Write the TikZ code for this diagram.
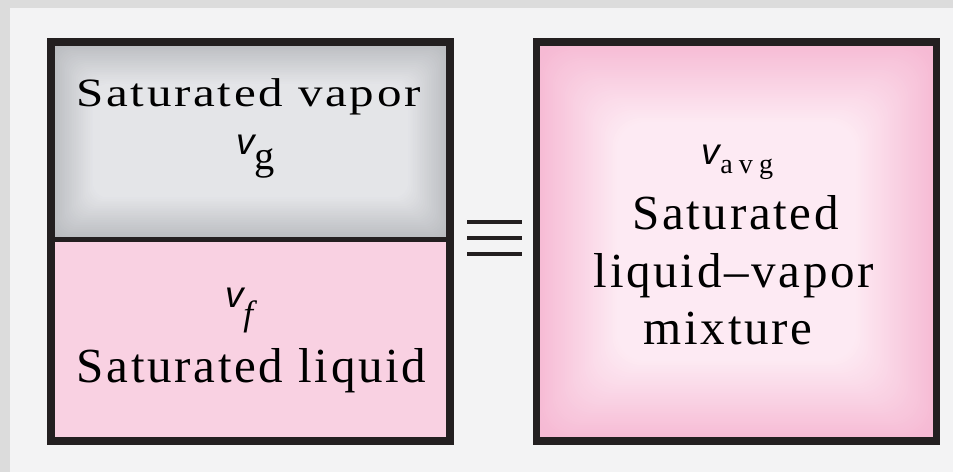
\documentclass[tikz,border=0pt]{standalone}
\usepackage{fontspec}
\setmainfont{Liberation Serif}[LetterSpace=5.5]
\newfontfamily\volfont{Liberation Sans}
\newfontfamily\subfont{Liberation Serif}[LetterSpace=22]
\usetikzlibrary{positioning}
\definecolor{bandgray}{RGB}{220,220,220}
\definecolor{pagegray}{RGB}{243,243,244}
\definecolor{edgeink}{RGB}{35,31,32}
\definecolor{vaporrim}{RGB}{186,188,192}
\definecolor{vaporcore}{RGB}{230,231,234}
\definecolor{liquidfill}{RGB}{249,209,226}
\definecolor{mixrim}{RGB}{246,186,212}
\definecolor{mixcore}{RGB}{253,234,243}

% specific volume symbol: size of subscript, drop of subscript, subscript
\newcommand{\specvol}[3]{{\fontsize{21}{21}\volfont\itshape v}\raisebox{-#2}{\fontsize{#1}{#1}\subfont #3}}

\begin{document}
\begin{tikzpicture}[
  lbl/.style={anchor=base, inner sep=0pt, font=\fontsize{27.9}{32}\selectfont},
  wall/.style={draw=edgeink, line width=4pt},
  bar/.style={edgeink, line width=2.8pt}
]
\useasboundingbox (0,0) rectangle (19.06,9.44);
% ================= BACKGROUND =================
\fill[bandgray] (0,0) rectangle (19.06,9.44);
\fill[pagegray] (0.2,0) rectangle (19.06,9.28);

% ================= LEFT BOX =================
% --- vapor part (grey vignette) ---
\fill[vaporrim] (1.02,4.65) rectangle (9.0,8.6);
\foreach \i in {1,...,24}{
  \pgfmathtruncatemacro\p{4*\i}
  \fill[vaporcore!\p!vaporrim, rounded corners=8pt] (1.02+0.035*\i,4.65+0.035*\i) rectangle (9.0-0.035*\i,8.6-0.035*\i);
}
% --- liquid part ---
\fill[liquidfill] (1.02,0.62) rectangle (9.0,4.65);

\draw[wall] (1.02,0.62) rectangle (9.0,8.6);
\draw[wall, line width=3.4pt] (1.02,4.65) -- (9.0,4.65);

\node[lbl] (vaptxt) at (4.97,7.3) {\scalebox{1}[0.82]{Saturated vapor}};
\node[lbl] (vgsym) at (5.11,6.34) {\specvol{23}{8.5pt}{g}};
\node[lbl] (vfsym) at (4.9,3.28) {\specvol{20}{10pt}{\textit{f}}};
\node[lbl] (liqtxt) at (5.03,1.8) {Saturated liquid};

% ================= EQUIVALENCE SIGN =================
\foreach \y in {5.0,4.68,4.36}
  \draw[bar] (9.34,\y) -- (10.44,\y);

% ================= RIGHT BOX =================
\fill[mixrim] (10.73,0.62) rectangle (18.73,8.6);
\foreach \i in {1,...,40}{
  \pgfmathtruncatemacro\p{2.5*\i}
  \fill[mixcore!\p!mixrim, rounded corners=16pt] (10.73+0.04*\i,0.62+0.04*\i) rectangle (18.73-0.04*\i,8.6-0.04*\i);
}
\draw[wall] (10.73,0.62) rectangle (18.73,8.6);

\node[lbl] (vavgsym) at (14.75,6.14) {\specvol{16}{5pt}{avg}};
\node[lbl] (mixtxt1) at (14.71,4.84) {Saturated};
\node[lbl] (mixtxt2) at (14.68,3.68) {liquid–vapor};
\node[lbl] (mixtxt3) at (14.56,2.54) {mixture};
\end{tikzpicture}
\end{document}
